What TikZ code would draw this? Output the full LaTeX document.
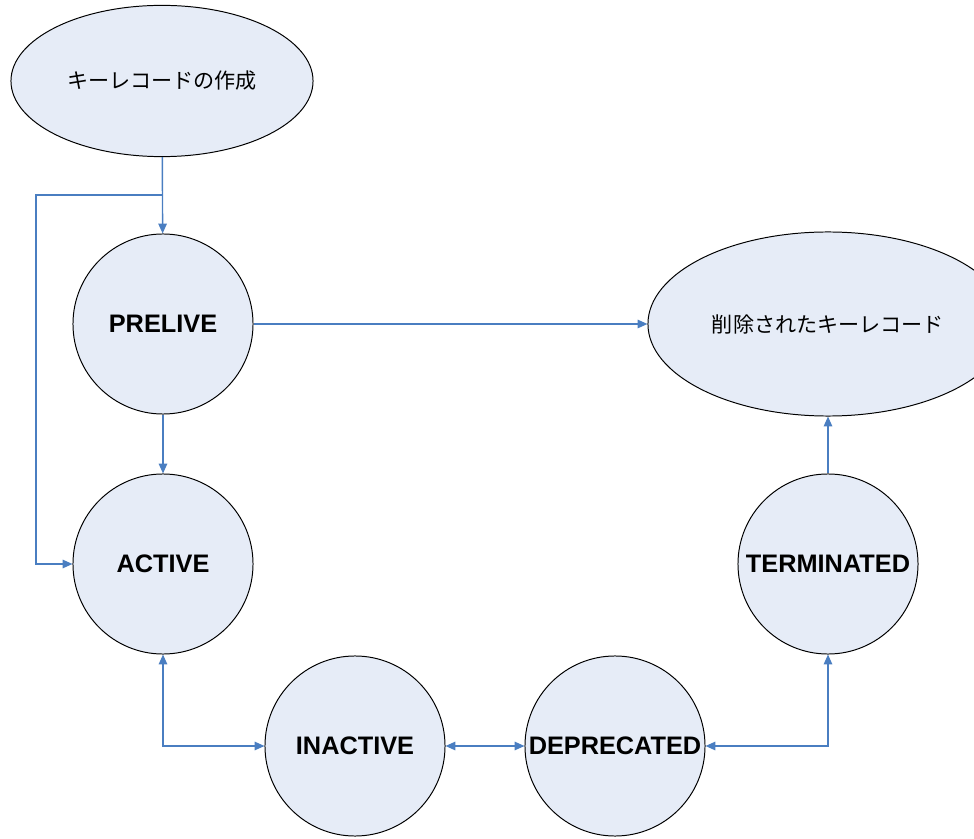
\documentclass[tikz,border=0pt]{standalone}
\usepackage{fontspec}
\setmainfont{Liberation Sans}
\newfontfamily\jpfont{Noto Sans CJK JP}
\usetikzlibrary{positioning,shapes.geometric,arrows.meta}
\definecolor{statefill}{RGB}{230,236,247}
\definecolor{linkblue}{RGB}{74,126,193}

\begin{document}
\begin{tikzpicture}[x=0.025cm, y=-0.025cm,
  state/.style={circle,draw,line width=0.7pt,fill=statefill,minimum size=4.5cm,inner sep=0pt,
    font=\fontsize{18}{20}\selectfont\bfseries},
  event/.style={ellipse,draw,line width=0.7pt,fill=statefill,inner sep=0pt,
    font=\jpfont\fontsize{15}{17}\selectfont},
  link/.style={draw=linkblue,line width=1pt,-{Triangle[length=7pt,width=6pt]}},
  twoway/.style={link,{Triangle[length=7pt,width=6pt]}-{Triangle[length=7pt,width=6pt]}}]
  \useasboundingbox (0,0) rectangle (974,839);
  % states
  \node[event,minimum width=7.55cm,minimum height=3.78cm] (create) at (162,81) {キーレコードの作成};
  \node[state] (prelive) at (163,324) {PRELIVE};
  \node[state] (active) at (163,564) {ACTIVE};
  \node[state] (inactive) at (355,746) {INACTIVE};
  \node[state] (deprecated) at (615,746) {DEPRECATED};
  \node[state] (terminated) at (828,564) {TERMINATED};
  \node[event,minimum width=9cm,minimum height=4.6cm] (deleted) at (828,324) {削除されたキーレコード};
  % transitions
  \coordinate (split) at (163,195);
  \coordinate (bend) at (36,195);
  \draw[link] (create) -- (prelive);
  \draw[link] (split) -- (bend) |- (active.west);
  \draw[link] (prelive) -- (active);
  \draw[link] (prelive) -- (deleted);
  \draw[twoway] (active.south) |- (inactive.west);
  \draw[twoway] (inactive) -- (deprecated);
  \draw[twoway] (deprecated.east) -| (terminated.south);
  \draw[link] (terminated) -- (deleted);
\end{tikzpicture}
\end{document}
